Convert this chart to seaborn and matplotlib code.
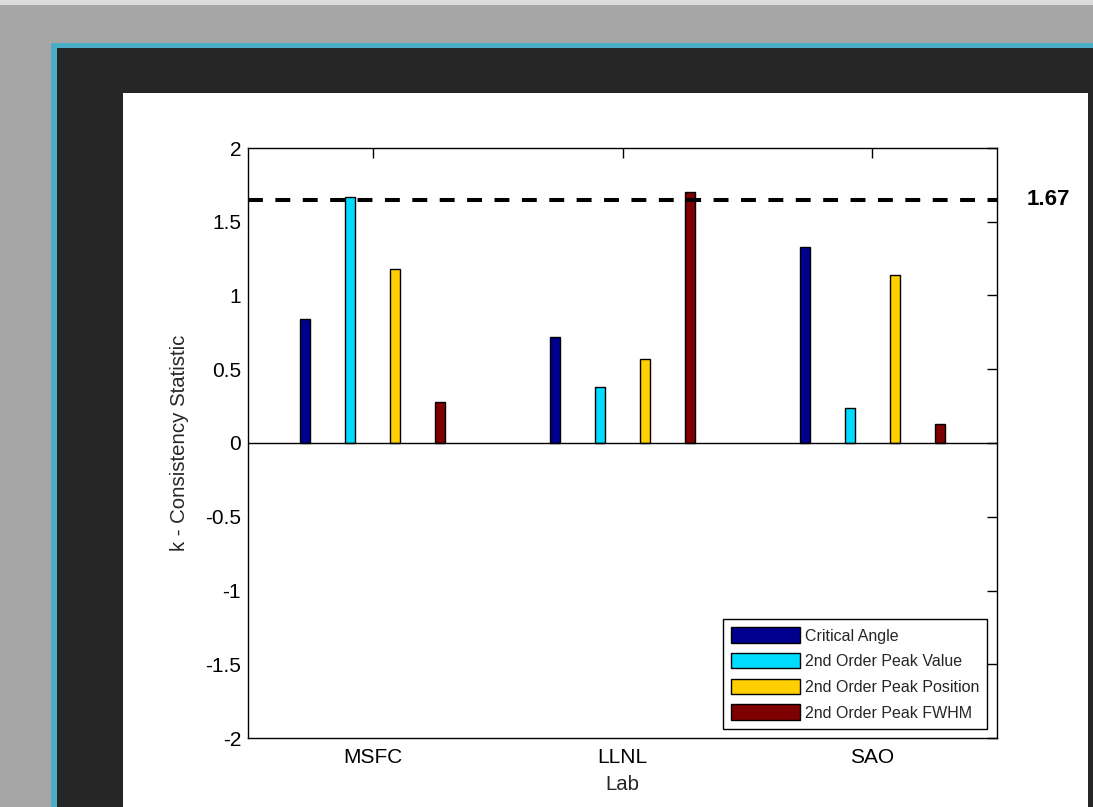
import numpy as np
import pandas as pd
import matplotlib
matplotlib.use("Agg")
import matplotlib.pyplot as plt
import matplotlib.transforms as mtransforms
from matplotlib.patches import Patch, Rectangle
import seaborn as sns

# ---------------------------------------------------
# Data
# ---------------------------------------------------
labs = ["MSFC", "LLNL", "SAO"]
metrics = ["Critical Angle", "2nd Order Peak Value",
           "2nd Order Peak Position", "2nd Order Peak FWHM"]
critical_angle = [0.84, 0.72, 1.33]
peak_value = [1.67, 0.38, 0.24]
peak_position = [1.18, 0.57, 1.14]
peak_fwhm = [0.28, 1.70, 0.13]
threshold = 1.65
threshold_label = "1.67"
ytick_values = [-2, -1.5, -1, -0.5, 0, 0.5, 1, 1.5, 2]
ytick_labels = ["-2", "-1.5", "-1", "-0.5", "0", "0.5", "1", "1.5", "2"]
colors = ["#00008f", "#00dcff", "#ffcf00", "#7f0000"]

# long table for seaborn
df = pd.DataFrame({
    "Lab": labs * 4,
    "metric": np.repeat(metrics, len(labs)),
    "k": critical_angle + peak_value + peak_position + peak_fwhm,
})
palette = dict(zip(metrics, colors))

# ---------------------------------------------------
# Style
# ---------------------------------------------------
sns.set_theme(style="white")
plt.rcParams["font.family"] = ["Liberation Sans", "DejaVu Sans"]
plt.rcParams["axes.unicode_minus"] = False

fig = plt.figure(figsize=(10.93, 8.07), dpi=100, facecolor="#a6a6a6")
W, H = 1093, 807


def px_rect(x0, y0, x1, y1, color):
    # rectangle given in pixel coords measured from the top-left corner
    fig.add_artist(Rectangle((x0 / W, 1 - y1 / H), (x1 - x0) / W, (y1 - y0) / H,
                             transform=fig.transFigure, facecolor=color,
                             edgecolor="none", zorder=-10))


# window frame behind the plot
px_rect(0, 0, W, 5, "#dcdcdc")
px_rect(51, 43, W, H, "#4bacc6")
px_rect(57, 48, W, H, "#262626")
px_rect(123, 93, 1088, H, "white")

ax = fig.add_axes([248 / W, 1 - 738 / H, (997 - 248) / W, (738 - 148) / H])
ax.set_facecolor("white")

# ---------------------------------------------------
# Bars
# ---------------------------------------------------
sns.barplot(data=df, x="Lab", y="k", hue="metric", order=labs,
            hue_order=metrics, palette=palette, width=0.72, gap=0.78,
            edgecolor="black", linewidth=1, saturation=1, legend=False, ax=ax)

# baseline and threshold
ax.axhline(0, color="black", lw=1, zorder=3)
ax.axhline(threshold, color="black", lw=2.9, dashes=(3.7, 3.1), zorder=4,
           clip_on=False)

trans = mtransforms.blended_transform_factory(ax.transAxes, ax.transData)
ax.text(1.039, threshold, threshold_label, transform=trans, ha="left",
        va="center", fontsize=16, fontweight="bold", color="black")

# ---------------------------------------------------
# Axes
# ---------------------------------------------------
ax.set_xlim(-0.5, 2.5)
ax.set_ylim(-2, 2)
ax.set_yticks(ytick_values)
ax.set_yticklabels(ytick_labels)
ax.tick_params(direction="in", length=7, width=1, top=True, right=True,
               labelsize=15, colors="black", pad=5)
ax.tick_params(axis="x", pad=7)
for s in ax.spines.values():
    s.set_color("black")
    s.set_linewidth(1)

ax.set_xlabel("Lab", fontsize=14.7)
ax.set_ylabel("k - Consistency Statistic", fontsize=14.7)
ax.xaxis.set_label_coords(0.5, -0.062)
ax.yaxis.set_label_coords(-0.079, 0.5)

handles = [Patch(facecolor=c, edgecolor="black", lw=1) for c in colors]
leg = ax.legend(handles, metrics, loc="lower right",
                bbox_to_anchor=(0.987, 0.016), borderaxespad=0,
                fontsize=11.5, fancybox=False, framealpha=1, edgecolor="black",
                handlelength=4.3, handleheight=1.1, handletextpad=0.3,
                labelspacing=0.6, borderpad=0.5)
leg.get_frame().set_linewidth(1)

fig.savefig("out.png", dpi=100, facecolor=fig.get_facecolor())
